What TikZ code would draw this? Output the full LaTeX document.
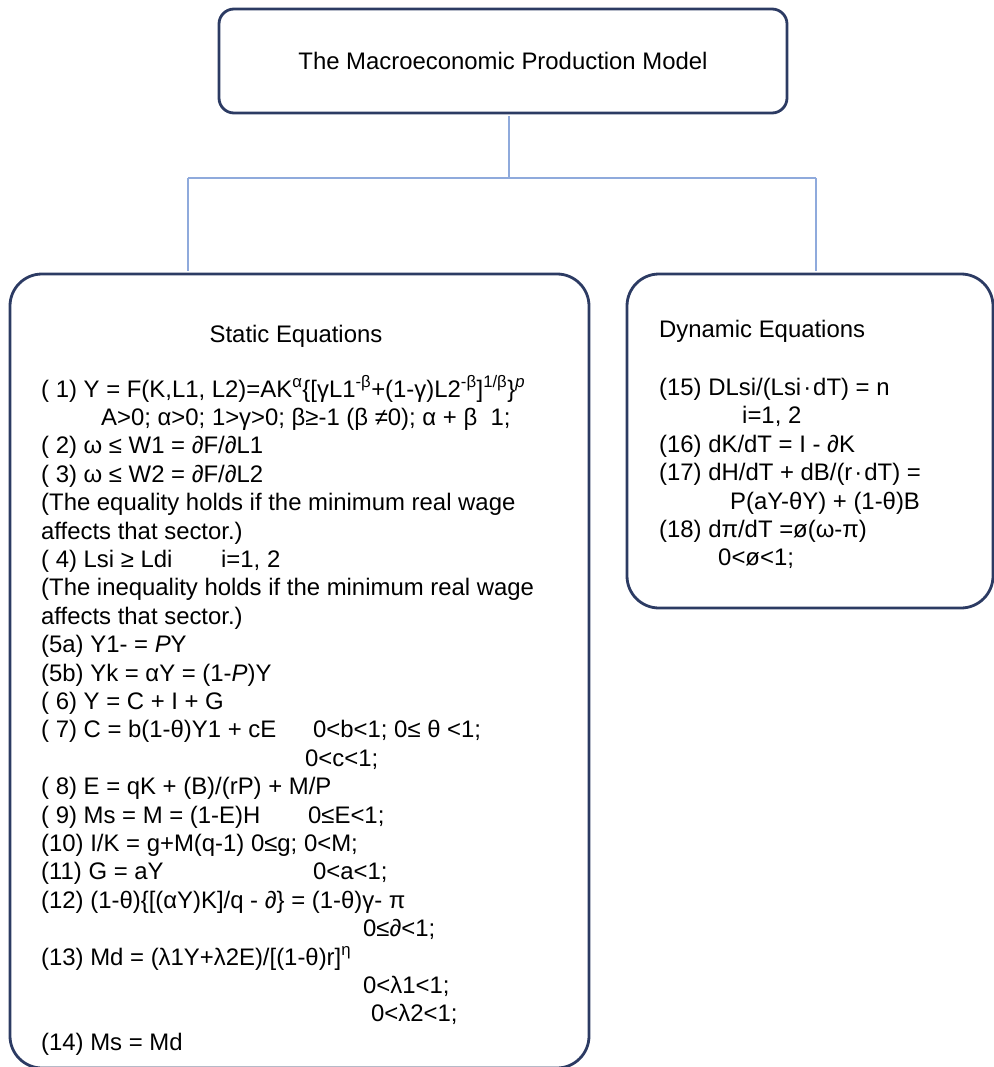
\documentclass[tikz,border=0pt]{standalone}
\usepackage{fontspec}
\setmainfont{Liberation Sans}
\definecolor{boxnavy}{HTML}{2C3B63}
\definecolor{linkblue}{HTML}{8FAADC}
\newcommand{\sps}[1]{\smash{\textsuperscript{#1}}}
\newcommand{\mdot}{\kern2pt·\kern2pt}
\tikzset{
  eqbox/.style={draw=boxnavy, line width=2.8pt, rounded corners=32pt, inner sep=0pt},
  link/.style={draw=linkblue, line width=1.4pt},
  eqtext/.style={inner sep=0pt, font=\fontsize{23.9}{28.4}\selectfont}
}

\begin{document}
\begin{tikzpicture}[x=1pt,y=-1pt]
			%%%%% START %%%%%
			\useasboundingbox (0,0) rectangle (993,1067);
			
			\node[eqbox, eqtext, rounded corners=15pt, minimum width=568pt, minimum height=104pt] (model) at (503,61) {The Macroeconomic Production Model};
			\node[eqbox, minimum width=579pt, minimum height=794pt] (static) at (299.5,671) {};
			\node[eqbox, minimum width=366pt, minimum height=334pt] (dynamic) at (810,441) {};
			
			\coordinate (hub) at (509,178);
			\coordinate (leftdrop) at (188,178);
			\coordinate (rightdrop) at (816,178);
			\draw[link, shorten <=1.4pt] (hub |- model.south) -- (hub);
			\draw[link] (leftdrop) -- (rightdrop);
			\draw[link, shorten >=1.4pt] (leftdrop) -- (leftdrop |- static.north);
			\draw[link, shorten >=1.4pt] (rightdrop) -- (rightdrop |- dynamic.north);
			
			\node[eqtext, anchor=base] (statichead) at (296,342) {Static Equations};
			\node[eqtext, anchor=base west] (dynamichead) at (659,337) {Dynamic Equations};
			
			\node[eqtext, anchor=base west] (statictext) at (41,397) {\begin{tabular}[t]{@{}l@{}}
				( 1) Y = F(K,L1, L2)=AK\sps{α}\{[γL1\sps{-β}+(1-γ)L2\sps{-β}]\sps{1/β}\}\sps{\textit{p}}\\
				\hspace*{60pt}A>0; α>0; 1>γ>0; β≥-1 (β ≠0); α + β \ 1;\\
				( 2) ω ≤ W1 = ∂F/∂L1\\
				( 3) ω ≤ W2 = ∂F/∂L2\\
				(The equality holds if the minimum real wage\\
				affects that sector.)\\
				\makebox[180pt][l]{( 4) Lsi ≥ Ldi}i=1, 2\\
				(The inequality holds if the minimum real wage\\
				affects that sector.)\\
				(5a) Y1- = \textit{P}Y\\
				(5b) Yk = αY = (1-\textit{P})Y\\
				( 6) Y = C + I + G\\
				\makebox[272pt][l]{( 7) C = b(1-θ)Y1 + cE}0<b<1; 0≤ θ <1;\\
				\hspace*{264pt}0<c<1;\\
				( 8) E = qK + (B)/(rP) + M/P\\
				\makebox[267pt][l]{( 9) Ms = M = (1-E)H}0≤E<1;\\
				(10) I/K = g+M(q-1) 0≤g; 0<M;\\
				\makebox[272pt][l]{(11) G = aY}0<a<1;\\
				(12) (1-θ)\{[(αY)K]/q - ∂\} = (1-θ)γ- π\\
				\hspace*{322pt}0≤∂<1;\\
				(13) Md = (λ1Y+λ2E)/[(1-θ)r]\sps{η}\\
				\hspace*{322pt}0<λ1<1;\\
				\hspace*{330pt}0<λ2<1;\\
				(14) Ms = Md
			\end{tabular}};
			
			\node[eqtext, anchor=base west] (dynamictext) at (659,395.5) {\begin{tabular}[t]{@{}l@{}}
				(15) DLsi/(Lsi\mdot dT) = n\\
				\hspace*{83pt}i=1, 2\\
				(16) dK/dT = I - ∂K\\
				(17) dH/dT + dB/(r\mdot dT) =\\
				\hspace*{71pt}P(aY-θY) + (1-θ)B\\
				(18) dπ/dT =ø(ω-π)\\
				\hspace*{59pt}0<ø<1;
			\end{tabular}};
			%%%%% END %%%%%
\end{tikzpicture}
\end{document}
